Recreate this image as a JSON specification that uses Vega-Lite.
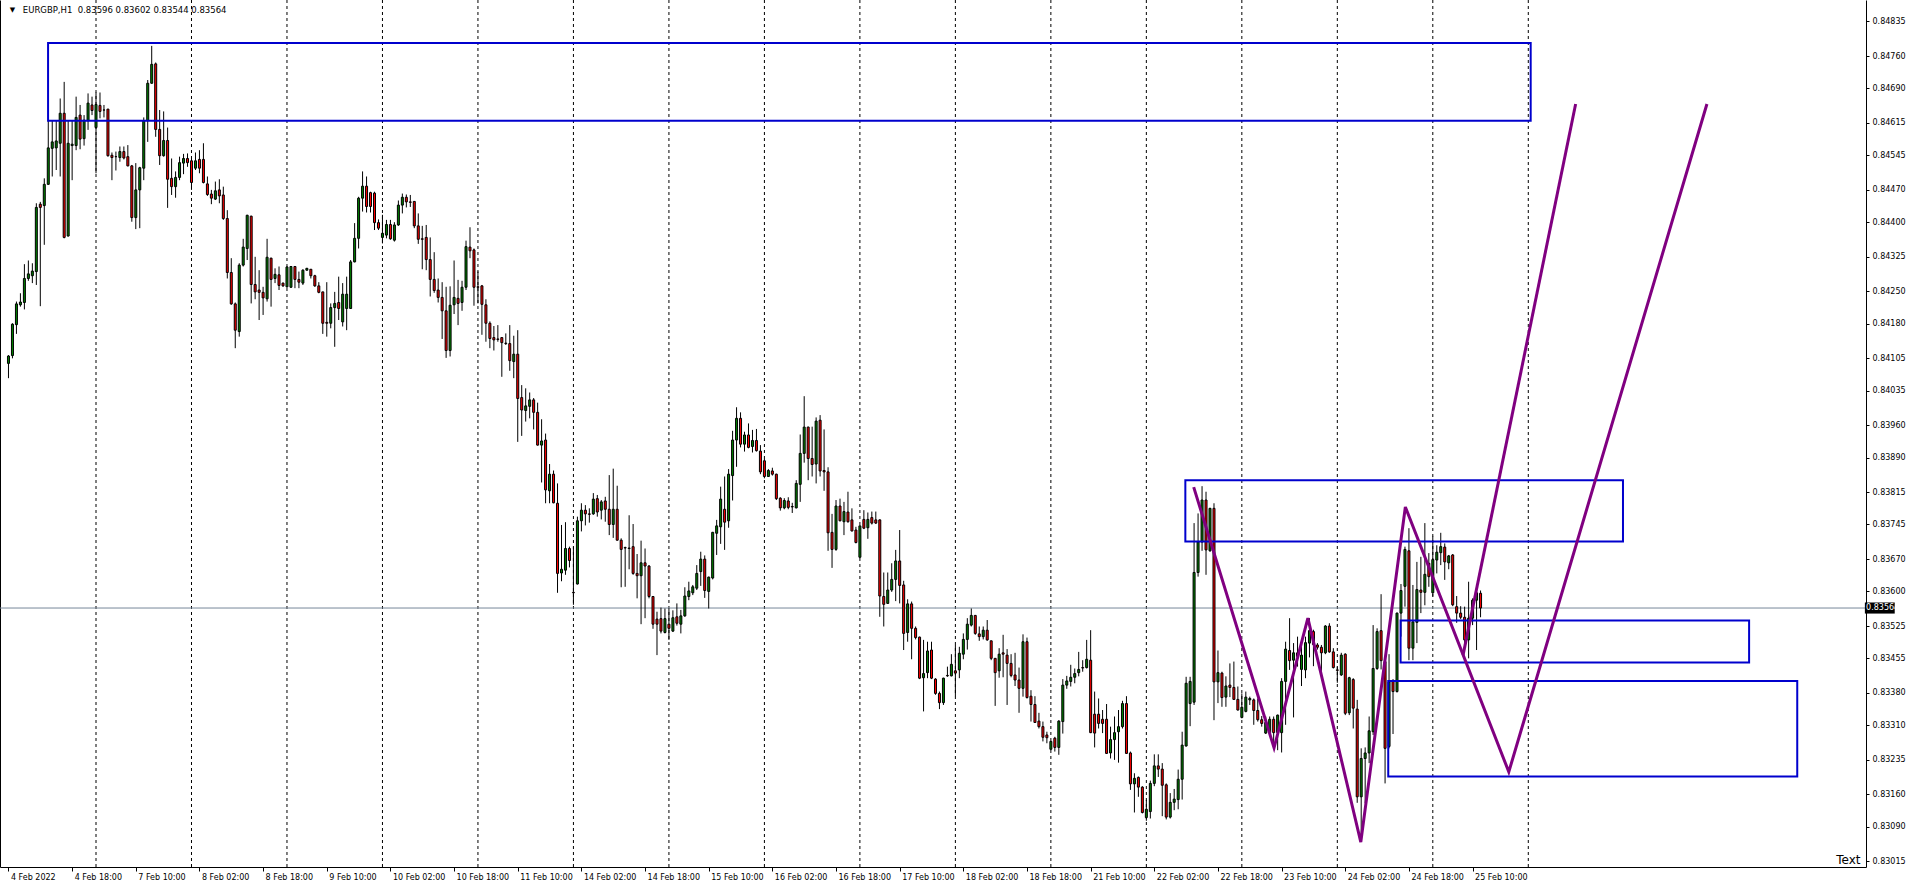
{
"$schema":"https://vega.github.io/schema/vega-lite/v6.json",
"width":1866,"height":867,
"autosize":{"type":"none"},
"padding":{"left":0,"top":0,"right":46,"bottom":18},
"background":"white",
"config":{"view":{"stroke":null},"font":"DejaVu Sans","axis":{"labelFont":"DejaVu Sans","labelFontSize":8,"labelColor":"black","domainColor":"black","tickColor":"black","grid":false}},
"resolve":{"scale":{"x":"shared","y":"shared"},"axis":{"x":"independent","y":"independent"}},
"datasets":{
"grid":[{"i":22},{"i":46},{"i":70},{"i":94},{"i":118},{"i":142},{"i":166},{"i":190},{"i":214},{"i":238},{"i":262},{"i":286},{"i":310},{"i":334},{"i":358},{"i":382}],
"boxes":[{"x1":9.95,"x2":382.6,"p1":0.84788,"p2":0.8462},{"x1":295.8,"x2":405.8,"p1":0.83841,"p2":0.83708},{"x1":349.9,"x2":437.5,"p1":0.83537,"p2":0.83446},{"x1":346.8,"x2":449.6,"p1":0.83406,"p2":0.83199}],
"lines":[{"g":"a","k":1,"x":297.9,"y":0.83826},{"g":"a","k":2,"x":318.1,"y":0.83261},{"g":"a","k":3,"x":326.6,"y":0.83542},{"g":"a","k":4,"x":339.9,"y":0.83057},{"g":"a","k":5,"x":351.1,"y":0.83783},{"g":"a","k":6,"x":377.1,"y":0.83209},{"g":"a","k":7,"x":426.9,"y":0.84656},{"g":"b","k":1,"x":365.6,"y":0.83462},{"g":"b","k":2,"x":393.9,"y":0.84656}],
"candles":[
{"i":0,"o":0.84094,"h":0.84112,"l":0.84062,"c":0.8411},
{"i":1,"o":0.84111,"h":0.84181,"l":0.84105,"c":0.84179},
{"i":2,"o":0.84178,"h":0.84228,"l":0.84158,"c":0.84223},
{"i":3,"o":0.84221,"h":0.84246,"l":0.84217,"c":0.84227},
{"i":4,"o":0.84226,"h":0.84309,"l":0.84211,"c":0.84278},
{"i":5,"o":0.84278,"h":0.84317,"l":0.84273,"c":0.84288},
{"i":6,"o":0.84284,"h":0.84311,"l":0.84268,"c":0.84294},
{"i":7,"o":0.84293,"h":0.84441,"l":0.84264,"c":0.84432},
{"i":8,"o":0.84439,"h":0.84444,"l":0.84218,"c":0.84432},
{"i":9,"o":0.84436,"h":0.84495,"l":0.84351,"c":0.84482},
{"i":10,"o":0.84482,"h":0.84621,"l":0.84481,"c":0.84561},
{"i":11,"o":0.8456,"h":0.84621,"l":0.84499,"c":0.84574},
{"i":12,"o":0.84561,"h":0.84621,"l":0.84513,"c":0.84576},
{"i":13,"o":0.84571,"h":0.84668,"l":0.84499,"c":0.84636},
{"i":14,"o":0.84636,"h":0.84704,"l":0.84365,"c":0.84367},
{"i":15,"o":0.8437,"h":0.84621,"l":0.84369,"c":0.84571},
{"i":16,"o":0.84566,"h":0.8462,"l":0.84491,"c":0.84569},
{"i":17,"o":0.84566,"h":0.84672,"l":0.84556,"c":0.84627},
{"i":18,"o":0.84632,"h":0.84654,"l":0.84558,"c":0.8458},
{"i":19,"o":0.84581,"h":0.84632,"l":0.84566,"c":0.84621},
{"i":20,"o":0.8462,"h":0.84679,"l":0.846,"c":0.84658},
{"i":21,"o":0.84654,"h":0.84672,"l":0.84632,"c":0.84642},
{"i":22,"o":0.84605,"h":0.84681,"l":0.84506,"c":0.84655},
{"i":23,"o":0.84653,"h":0.84681,"l":0.84625,"c":0.8464},
{"i":24,"o":0.84643,"h":0.84654,"l":0.84627,"c":0.84643},
{"i":25,"o":0.84645,"h":0.84645,"l":0.84542,"c":0.84544},
{"i":26,"o":0.84545,"h":0.84551,"l":0.84491,"c":0.8454},
{"i":27,"o":0.84542,"h":0.84553,"l":0.84512,"c":0.84542},
{"i":28,"o":0.8454,"h":0.84564,"l":0.84531,"c":0.84553},
{"i":29,"o":0.84553,"h":0.84564,"l":0.84536,"c":0.84539},
{"i":30,"o":0.84542,"h":0.84567,"l":0.84521,"c":0.84522},
{"i":31,"o":0.84522,"h":0.84524,"l":0.84401,"c":0.8441},
{"i":32,"o":0.8441,"h":0.84528,"l":0.84385,"c":0.8447},
{"i":33,"o":0.8447,"h":0.8452,"l":0.84387,"c":0.84518},
{"i":34,"o":0.84517,"h":0.84627,"l":0.84491,"c":0.8462},
{"i":35,"o":0.8462,"h":0.84708,"l":0.84574,"c":0.84701},
{"i":36,"o":0.84701,"h":0.84782,"l":0.847,"c":0.84742},
{"i":37,"o":0.84743,"h":0.84746,"l":0.84585,"c":0.84601},
{"i":38,"o":0.84601,"h":0.84643,"l":0.84524,"c":0.84544},
{"i":39,"o":0.84544,"h":0.8464,"l":0.84542,"c":0.84577},
{"i":40,"o":0.84577,"h":0.84605,"l":0.84431,"c":0.84493},
{"i":41,"o":0.84495,"h":0.84538,"l":0.84459,"c":0.84477},
{"i":42,"o":0.84477,"h":0.8451,"l":0.84453,"c":0.84497},
{"i":43,"o":0.84497,"h":0.84542,"l":0.84491,"c":0.84529},
{"i":44,"o":0.84528,"h":0.84548,"l":0.84504,"c":0.84538},
{"i":45,"o":0.84538,"h":0.84549,"l":0.8452,"c":0.84529},
{"i":46,"o":0.84533,"h":0.84538,"l":0.8447,"c":0.84486},
{"i":47,"o":0.84517,"h":0.84551,"l":0.84513,"c":0.84533},
{"i":48,"o":0.84536,"h":0.84556,"l":0.84506,"c":0.84517},
{"i":49,"o":0.84536,"h":0.84571,"l":0.84484,"c":0.84486},
{"i":50,"o":0.84483,"h":0.84499,"l":0.84457,"c":0.8446},
{"i":51,"o":0.84461,"h":0.8447,"l":0.84439,"c":0.84452},
{"i":52,"o":0.8445,"h":0.84488,"l":0.84448,"c":0.84468},
{"i":53,"o":0.8447,"h":0.84493,"l":0.84441,"c":0.84457},
{"i":54,"o":0.84459,"h":0.84477,"l":0.84405,"c":0.84408},
{"i":55,"o":0.84408,"h":0.84426,"l":0.84278,"c":0.84291},
{"i":56,"o":0.84291,"h":0.84322,"l":0.84221,"c":0.84223},
{"i":57,"o":0.84223,"h":0.84226,"l":0.84127,"c":0.84166},
{"i":58,"o":0.84163,"h":0.84311,"l":0.84152,"c":0.84307},
{"i":59,"o":0.84307,"h":0.84364,"l":0.84304,"c":0.84346},
{"i":60,"o":0.84343,"h":0.84416,"l":0.84318,"c":0.84415},
{"i":61,"o":0.84413,"h":0.84414,"l":0.84224,"c":0.84265},
{"i":62,"o":0.84265,"h":0.84325,"l":0.84233,"c":0.84249},
{"i":63,"o":0.84253,"h":0.84296,"l":0.84188,"c":0.84248},
{"i":64,"o":0.84248,"h":0.8426,"l":0.84199,"c":0.84236},
{"i":65,"o":0.84234,"h":0.84364,"l":0.84228,"c":0.84324},
{"i":66,"o":0.84322,"h":0.84323,"l":0.84217,"c":0.84276},
{"i":67,"o":0.84278,"h":0.843,"l":0.84268,"c":0.84287},
{"i":68,"o":0.84286,"h":0.84304,"l":0.84253,"c":0.84263},
{"i":69,"o":0.84268,"h":0.84269,"l":0.8426,"c":0.84262},
{"i":70,"o":0.8426,"h":0.84304,"l":0.84258,"c":0.84303},
{"i":71,"o":0.84259,"h":0.84305,"l":0.84258,"c":0.84304},
{"i":72,"o":0.84304,"h":0.84305,"l":0.84257,"c":0.84276},
{"i":73,"o":0.84276,"h":0.84293,"l":0.84257,"c":0.8427},
{"i":74,"o":0.84268,"h":0.84298,"l":0.84264,"c":0.84296},
{"i":75,"o":0.84296,"h":0.84301,"l":0.84295,"c":0.843},
{"i":76,"o":0.84298,"h":0.84298,"l":0.84278,"c":0.84284},
{"i":77,"o":0.84284,"h":0.84286,"l":0.8426,"c":0.84262},
{"i":78,"o":0.84262,"h":0.8427,"l":0.84246,"c":0.84248},
{"i":79,"o":0.84249,"h":0.84249,"l":0.84158,"c":0.84181},
{"i":80,"o":0.84183,"h":0.8427,"l":0.84152,"c":0.84181},
{"i":81,"o":0.84181,"h":0.84224,"l":0.8417,"c":0.84215},
{"i":82,"o":0.84215,"h":0.84249,"l":0.8413,"c":0.84224},
{"i":83,"o":0.84226,"h":0.84282,"l":0.84188,"c":0.84213},
{"i":84,"o":0.84184,"h":0.84268,"l":0.84174,"c":0.84244},
{"i":85,"o":0.84213,"h":0.84282,"l":0.84166,"c":0.84244},
{"i":86,"o":0.84213,"h":0.84318,"l":0.84212,"c":0.84314},
{"i":87,"o":0.84314,"h":0.84398,"l":0.84313,"c":0.84365},
{"i":88,"o":0.84365,"h":0.84455,"l":0.84343,"c":0.84452},
{"i":89,"o":0.84452,"h":0.8451,"l":0.84423,"c":0.84478},
{"i":90,"o":0.84478,"h":0.84499,"l":0.84421,"c":0.84434},
{"i":91,"o":0.84464,"h":0.84466,"l":0.84421,"c":0.84434},
{"i":92,"o":0.84463,"h":0.84466,"l":0.84383,"c":0.84399},
{"i":93,"o":0.84399,"h":0.84406,"l":0.84383,"c":0.84387},
{"i":94,"o":0.84367,"h":0.84416,"l":0.84354,"c":0.84376},
{"i":95,"o":0.84372,"h":0.84405,"l":0.84365,"c":0.84395},
{"i":96,"o":0.84395,"h":0.84405,"l":0.84362,"c":0.84364},
{"i":97,"o":0.84361,"h":0.844,"l":0.84358,"c":0.84394},
{"i":98,"o":0.84394,"h":0.84447,"l":0.84392,"c":0.84437},
{"i":99,"o":0.84437,"h":0.84462,"l":0.84419,"c":0.84454},
{"i":100,"o":0.84454,"h":0.8446,"l":0.84432,"c":0.84444},
{"i":101,"o":0.84444,"h":0.84459,"l":0.84433,"c":0.84443},
{"i":102,"o":0.84445,"h":0.84445,"l":0.84387,"c":0.84392},
{"i":103,"o":0.84392,"h":0.84419,"l":0.84353,"c":0.84363},
{"i":104,"o":0.84364,"h":0.84392,"l":0.84298,"c":0.84363},
{"i":105,"o":0.84367,"h":0.84394,"l":0.84296,"c":0.84319},
{"i":106,"o":0.84319,"h":0.84367,"l":0.84239,"c":0.84276},
{"i":107,"o":0.84276,"h":0.84335,"l":0.84247,"c":0.84252},
{"i":108,"o":0.84253,"h":0.84278,"l":0.84226,"c":0.84237},
{"i":109,"o":0.84237,"h":0.8427,"l":0.84147,"c":0.84208},
{"i":110,"o":0.84208,"h":0.8426,"l":0.84106,"c":0.84122},
{"i":111,"o":0.84122,"h":0.84261,"l":0.84109,"c":0.8422},
{"i":112,"o":0.84221,"h":0.84317,"l":0.84201,"c":0.84237},
{"i":113,"o":0.84235,"h":0.84275,"l":0.84177,"c":0.84224},
{"i":114,"o":0.84226,"h":0.84273,"l":0.84208,"c":0.84259},
{"i":115,"o":0.84259,"h":0.8436,"l":0.84253,"c":0.84347},
{"i":116,"o":0.84346,"h":0.84389,"l":0.84322,"c":0.84338},
{"i":117,"o":0.8434,"h":0.84343,"l":0.84219,"c":0.84259},
{"i":118,"o":0.8426,"h":0.84293,"l":0.84224,"c":0.84259},
{"i":119,"o":0.84262,"h":0.84264,"l":0.84156,"c":0.84222},
{"i":120,"o":0.84221,"h":0.84233,"l":0.84141,"c":0.84181},
{"i":121,"o":0.84181,"h":0.84185,"l":0.84127,"c":0.84148},
{"i":122,"o":0.8415,"h":0.84175,"l":0.84122,"c":0.84145},
{"i":123,"o":0.84147,"h":0.84177,"l":0.84141,"c":0.84146},
{"i":124,"o":0.8415,"h":0.84151,"l":0.84065,"c":0.84139},
{"i":125,"o":0.84138,"h":0.84159,"l":0.84134,"c":0.84137},
{"i":126,"o":0.84137,"h":0.84177,"l":0.84078,"c":0.841},
{"i":127,"o":0.84098,"h":0.84154,"l":0.84062,"c":0.84114},
{"i":128,"o":0.84114,"h":0.84166,"l":0.83924,"c":0.84018},
{"i":129,"o":0.8402,"h":0.84047,"l":0.83937,"c":0.83993},
{"i":130,"o":0.83992,"h":0.8404,"l":0.83968,"c":0.84002},
{"i":131,"o":0.84001,"h":0.84031,"l":0.83975,"c":0.84015},
{"i":132,"o":0.84015,"h":0.84019,"l":0.83951,"c":0.83988},
{"i":133,"o":0.83988,"h":0.84009,"l":0.83916,"c":0.83917},
{"i":134,"o":0.83917,"h":0.83973,"l":0.83836,"c":0.83926},
{"i":135,"o":0.83928,"h":0.83942,"l":0.83791,"c":0.8382},
{"i":136,"o":0.83818,"h":0.83876,"l":0.83791,"c":0.83854},
{"i":137,"o":0.83854,"h":0.83862,"l":0.83791,"c":0.83792},
{"i":138,"o":0.83791,"h":0.83834,"l":0.83597,"c":0.83639},
{"i":139,"o":0.8364,"h":0.83744,"l":0.83622,"c":0.83648},
{"i":140,"o":0.83646,"h":0.8375,"l":0.83636,"c":0.83693},
{"i":141,"o":0.83693,"h":0.83697,"l":0.83652,"c":0.83667},
{"i":142,"o":0.83598,"h":0.83697,"l":0.83571,"c":0.83597},
{"i":143,"o":0.83616,"h":0.83762,"l":0.83615,"c":0.83753},
{"i":144,"o":0.83753,"h":0.83791,"l":0.8373,"c":0.83776},
{"i":145,"o":0.83776,"h":0.83787,"l":0.83743,"c":0.83768},
{"i":146,"o":0.83768,"h":0.8378,"l":0.83749,"c":0.83767},
{"i":147,"o":0.83768,"h":0.83813,"l":0.83766,"c":0.838},
{"i":148,"o":0.83801,"h":0.83809,"l":0.83762,"c":0.83772},
{"i":149,"o":0.83776,"h":0.83798,"l":0.83756,"c":0.83794},
{"i":150,"o":0.83796,"h":0.83805,"l":0.83751,"c":0.83778},
{"i":151,"o":0.83778,"h":0.83852,"l":0.83722,"c":0.83745},
{"i":152,"o":0.83745,"h":0.83866,"l":0.83716,"c":0.83778},
{"i":153,"o":0.83778,"h":0.83829,"l":0.8371,"c":0.83711},
{"i":154,"o":0.83711,"h":0.83715,"l":0.83609,"c":0.83691},
{"i":155,"o":0.83695,"h":0.83697,"l":0.8361,"c":0.83694},
{"i":156,"o":0.83694,"h":0.83765,"l":0.83648,"c":0.83693},
{"i":157,"o":0.83697,"h":0.83746,"l":0.83636,"c":0.83639},
{"i":158,"o":0.83639,"h":0.83681,"l":0.83585,"c":0.83634},
{"i":159,"o":0.83634,"h":0.8371,"l":0.83529,"c":0.83662},
{"i":160,"o":0.83662,"h":0.83693,"l":0.83542,"c":0.83655},
{"i":161,"o":0.83655,"h":0.83657,"l":0.83585,"c":0.83589},
{"i":162,"o":0.83589,"h":0.8359,"l":0.83519,"c":0.83529},
{"i":163,"o":0.8354,"h":0.83556,"l":0.83462,"c":0.83529},
{"i":164,"o":0.83541,"h":0.83565,"l":0.83509,"c":0.83514},
{"i":165,"o":0.83511,"h":0.83563,"l":0.83509,"c":0.83541},
{"i":166,"o":0.83529,"h":0.83563,"l":0.83495,"c":0.8352},
{"i":167,"o":0.83514,"h":0.83559,"l":0.83512,"c":0.83543},
{"i":168,"o":0.83545,"h":0.83574,"l":0.83526,"c":0.83531},
{"i":169,"o":0.83529,"h":0.8356,"l":0.83509,"c":0.83547},
{"i":170,"o":0.83547,"h":0.83609,"l":0.83545,"c":0.8359},
{"i":171,"o":0.83589,"h":0.83621,"l":0.83581,"c":0.83601},
{"i":172,"o":0.83597,"h":0.83614,"l":0.83592,"c":0.8361},
{"i":173,"o":0.83607,"h":0.83657,"l":0.83603,"c":0.83639},
{"i":174,"o":0.83643,"h":0.83686,"l":0.83612,"c":0.8367},
{"i":175,"o":0.8367,"h":0.83678,"l":0.83586,"c":0.83602},
{"i":176,"o":0.836,"h":0.83632,"l":0.83563,"c":0.83631},
{"i":177,"o":0.83629,"h":0.83729,"l":0.83626,"c":0.83728},
{"i":178,"o":0.83726,"h":0.83755,"l":0.83679,"c":0.83742},
{"i":179,"o":0.8374,"h":0.83827,"l":0.83703,"c":0.838},
{"i":180,"o":0.83778,"h":0.83849,"l":0.8369,"c":0.8375},
{"i":181,"o":0.83753,"h":0.83865,"l":0.83738,"c":0.83854},
{"i":182,"o":0.83851,"h":0.83948,"l":0.83797,"c":0.83928},
{"i":183,"o":0.83928,"h":0.83999,"l":0.8387,"c":0.83975},
{"i":184,"o":0.83975,"h":0.83988,"l":0.83912,"c":0.83919},
{"i":185,"o":0.83919,"h":0.83946,"l":0.83903,"c":0.83939},
{"i":186,"o":0.83939,"h":0.83964,"l":0.8391,"c":0.83912},
{"i":187,"o":0.83914,"h":0.8395,"l":0.83901,"c":0.83927},
{"i":188,"o":0.83927,"h":0.83952,"l":0.83903,"c":0.83905},
{"i":189,"o":0.83904,"h":0.83917,"l":0.83854,"c":0.83859},
{"i":190,"o":0.83883,"h":0.83887,"l":0.83845,"c":0.83849},
{"i":191,"o":0.83849,"h":0.83865,"l":0.83848,"c":0.83862},
{"i":192,"o":0.83861,"h":0.83868,"l":0.83851,"c":0.83854},
{"i":193,"o":0.83854,"h":0.83855,"l":0.83798,"c":0.83801},
{"i":194,"o":0.83802,"h":0.83804,"l":0.83775,"c":0.83781},
{"i":195,"o":0.83781,"h":0.83802,"l":0.83778,"c":0.83797},
{"i":196,"o":0.83796,"h":0.83804,"l":0.83778,"c":0.83782},
{"i":197,"o":0.83784,"h":0.83792,"l":0.8377,"c":0.83783},
{"i":198,"o":0.83781,"h":0.83841,"l":0.8378,"c":0.83834},
{"i":199,"o":0.83832,"h":0.8394,"l":0.83794,"c":0.83899},
{"i":200,"o":0.83899,"h":0.84023,"l":0.83879,"c":0.83956},
{"i":201,"o":0.83956,"h":0.83957,"l":0.83841,"c":0.83888},
{"i":202,"o":0.83888,"h":0.83957,"l":0.83849,"c":0.83875},
{"i":203,"o":0.83876,"h":0.83977,"l":0.83834,"c":0.83969},
{"i":204,"o":0.83971,"h":0.83982,"l":0.83849,"c":0.83861},
{"i":205,"o":0.83862,"h":0.83951,"l":0.83818,"c":0.83859},
{"i":206,"o":0.83859,"h":0.83869,"l":0.83688,"c":0.83727},
{"i":207,"o":0.83728,"h":0.83768,"l":0.83651,"c":0.83691},
{"i":208,"o":0.83691,"h":0.83798,"l":0.83688,"c":0.83785},
{"i":209,"o":0.83785,"h":0.83801,"l":0.83752,"c":0.83753},
{"i":210,"o":0.83751,"h":0.83794,"l":0.83722,"c":0.83773},
{"i":211,"o":0.83772,"h":0.83816,"l":0.83749,"c":0.83751},
{"i":212,"o":0.83755,"h":0.8378,"l":0.8373,"c":0.83731},
{"i":213,"o":0.83733,"h":0.8374,"l":0.83704,"c":0.83706},
{"i":214,"o":0.83674,"h":0.83743,"l":0.83672,"c":0.83742},
{"i":215,"o":0.83756,"h":0.83776,"l":0.83735,"c":0.83737},
{"i":216,"o":0.83738,"h":0.83771,"l":0.83714,"c":0.83756},
{"i":217,"o":0.8376,"h":0.83773,"l":0.83745,"c":0.83748},
{"i":218,"o":0.83755,"h":0.83773,"l":0.83746,"c":0.83748},
{"i":219,"o":0.83755,"h":0.83756,"l":0.83545,"c":0.8359},
{"i":220,"o":0.83589,"h":0.83641,"l":0.83524,"c":0.83572},
{"i":221,"o":0.83574,"h":0.83641,"l":0.83573,"c":0.83603},
{"i":222,"o":0.83603,"h":0.83661,"l":0.83599,"c":0.83626},
{"i":223,"o":0.83626,"h":0.8369,"l":0.83579,"c":0.83666},
{"i":224,"o":0.83666,"h":0.83733,"l":0.83574,"c":0.83613},
{"i":225,"o":0.83614,"h":0.83623,"l":0.83473,"c":0.83509},
{"i":226,"o":0.83511,"h":0.83583,"l":0.83491,"c":0.83573},
{"i":227,"o":0.83573,"h":0.83578,"l":0.83453,"c":0.8352},
{"i":228,"o":0.8352,"h":0.83524,"l":0.83496,"c":0.835},
{"i":229,"o":0.83501,"h":0.83502,"l":0.8341,"c":0.83412},
{"i":230,"o":0.83413,"h":0.83495,"l":0.8334,"c":0.83422},
{"i":231,"o":0.83424,"h":0.83491,"l":0.83412,"c":0.83471},
{"i":232,"o":0.83473,"h":0.83491,"l":0.8341,"c":0.83412},
{"i":233,"o":0.8341,"h":0.83412,"l":0.83376,"c":0.83379},
{"i":234,"o":0.83379,"h":0.83383,"l":0.83345,"c":0.83359},
{"i":235,"o":0.83359,"h":0.83413,"l":0.83354,"c":0.83412},
{"i":236,"o":0.83418,"h":0.83437,"l":0.83415,"c":0.83417},
{"i":237,"o":0.83417,"h":0.83464,"l":0.83416,"c":0.83442},
{"i":238,"o":0.83428,"h":0.83484,"l":0.83373,"c":0.83423},
{"i":239,"o":0.8343,"h":0.8348,"l":0.83412,"c":0.83466},
{"i":240,"o":0.83464,"h":0.83509,"l":0.83453,"c":0.83496},
{"i":241,"o":0.83496,"h":0.83542,"l":0.83474,"c":0.83529},
{"i":242,"o":0.83527,"h":0.83563,"l":0.83524,"c":0.83548},
{"i":243,"o":0.83548,"h":0.83549,"l":0.83506,"c":0.83509},
{"i":244,"o":0.83508,"h":0.83524,"l":0.83493,"c":0.83502},
{"i":245,"o":0.83502,"h":0.83524,"l":0.83496,"c":0.83516},
{"i":246,"o":0.83516,"h":0.83538,"l":0.83493,"c":0.83495},
{"i":247,"o":0.83493,"h":0.83493,"l":0.83451,"c":0.83455},
{"i":248,"o":0.83455,"h":0.83455,"l":0.83352,"c":0.83424},
{"i":249,"o":0.83428,"h":0.83477,"l":0.83413,"c":0.83464},
{"i":250,"o":0.83467,"h":0.83506,"l":0.83414,"c":0.83464},
{"i":251,"o":0.83462,"h":0.83475,"l":0.83354,"c":0.83444},
{"i":252,"o":0.83444,"h":0.83464,"l":0.83414,"c":0.83418},
{"i":253,"o":0.83419,"h":0.83467,"l":0.83395,"c":0.83408},
{"i":254,"o":0.83408,"h":0.83435,"l":0.83337,"c":0.8339},
{"i":255,"o":0.8339,"h":0.83507,"l":0.83372,"c":0.83491},
{"i":256,"o":0.83491,"h":0.835,"l":0.83368,"c":0.8337},
{"i":257,"o":0.83373,"h":0.83386,"l":0.83318,"c":0.83355},
{"i":258,"o":0.83355,"h":0.83373,"l":0.83315,"c":0.83316},
{"i":259,"o":0.83319,"h":0.83337,"l":0.83303,"c":0.83307},
{"i":260,"o":0.83307,"h":0.83318,"l":0.83275,"c":0.83284},
{"i":261,"o":0.83289,"h":0.83296,"l":0.83271,"c":0.83283},
{"i":262,"o":0.83258,"h":0.83276,"l":0.83256,"c":0.83275},
{"i":263,"o":0.83282,"h":0.83285,"l":0.83253,"c":0.83262},
{"i":264,"o":0.83262,"h":0.83321,"l":0.83246,"c":0.83319},
{"i":265,"o":0.83318,"h":0.8341,"l":0.83292,"c":0.83397},
{"i":266,"o":0.83397,"h":0.83417,"l":0.83389,"c":0.83406},
{"i":267,"o":0.83405,"h":0.83441,"l":0.83394,"c":0.83414},
{"i":268,"o":0.83414,"h":0.83433,"l":0.83401,"c":0.83422},
{"i":269,"o":0.83424,"h":0.83469,"l":0.83416,"c":0.83431},
{"i":270,"o":0.83435,"h":0.83451,"l":0.83426,"c":0.83434},
{"i":271,"o":0.83435,"h":0.83495,"l":0.83433,"c":0.83453},
{"i":272,"o":0.83451,"h":0.83516,"l":0.83293,"c":0.83294},
{"i":273,"o":0.83334,"h":0.83383,"l":0.83262,"c":0.83293},
{"i":274,"o":0.83334,"h":0.83368,"l":0.83303,"c":0.83314},
{"i":275,"o":0.83323,"h":0.83343,"l":0.83293,"c":0.83314},
{"i":276,"o":0.83323,"h":0.83356,"l":0.83248,"c":0.83249},
{"i":277,"o":0.8325,"h":0.83307,"l":0.83238,"c":0.83279},
{"i":278,"o":0.83279,"h":0.83329,"l":0.83235,"c":0.83294},
{"i":279,"o":0.83296,"h":0.83343,"l":0.83229,"c":0.83307},
{"i":280,"o":0.83307,"h":0.83363,"l":0.83303,"c":0.83357},
{"i":281,"o":0.83357,"h":0.83373,"l":0.83248,"c":0.83249},
{"i":282,"o":0.8325,"h":0.83253,"l":0.8317,"c":0.83183},
{"i":283,"o":0.83183,"h":0.83206,"l":0.83121,"c":0.83195},
{"i":284,"o":0.83197,"h":0.83199,"l":0.83155,"c":0.83176},
{"i":285,"o":0.83176,"h":0.83178,"l":0.83119,"c":0.83121},
{"i":286,"o":0.8311,"h":0.83148,"l":0.83103,"c":0.83128},
{"i":287,"o":0.83123,"h":0.8319,"l":0.83108,"c":0.83184},
{"i":288,"o":0.83184,"h":0.83247,"l":0.83178,"c":0.83222},
{"i":289,"o":0.83222,"h":0.83247,"l":0.83198,"c":0.83215},
{"i":290,"o":0.83215,"h":0.83228,"l":0.83113,"c":0.8318},
{"i":291,"o":0.83181,"h":0.83184,"l":0.83106,"c":0.83111},
{"i":292,"o":0.83111,"h":0.83163,"l":0.83108,"c":0.83143},
{"i":293,"o":0.83143,"h":0.83172,"l":0.83126,"c":0.8315},
{"i":294,"o":0.83149,"h":0.83214,"l":0.83128,"c":0.83193},
{"i":295,"o":0.83193,"h":0.83296,"l":0.83149,"c":0.83267},
{"i":296,"o":0.83265,"h":0.83415,"l":0.83264,"c":0.83401},
{"i":297,"o":0.83357,"h":0.83415,"l":0.83308,"c":0.83405},
{"i":298,"o":0.8336,"h":0.83748,"l":0.83354,"c":0.83641},
{"i":299,"o":0.83641,"h":0.83769,"l":0.83632,"c":0.83707},
{"i":300,"o":0.83707,"h":0.83828,"l":0.83688,"c":0.83798},
{"i":301,"o":0.83798,"h":0.83816,"l":0.83636,"c":0.8369},
{"i":302,"o":0.83688,"h":0.83781,"l":0.83686,"c":0.8378},
{"i":303,"o":0.8378,"h":0.83791,"l":0.83321,"c":0.83404},
{"i":304,"o":0.83404,"h":0.83472,"l":0.83358,"c":0.83424},
{"i":305,"o":0.83423,"h":0.83426,"l":0.8335,"c":0.8337},
{"i":306,"o":0.83371,"h":0.83416,"l":0.8335,"c":0.83395},
{"i":307,"o":0.83397,"h":0.83444,"l":0.83371,"c":0.83392},
{"i":308,"o":0.83392,"h":0.83448,"l":0.83365,"c":0.83366},
{"i":309,"o":0.83366,"h":0.83394,"l":0.83342,"c":0.83343},
{"i":310,"o":0.83327,"h":0.83379,"l":0.83325,"c":0.83349},
{"i":311,"o":0.8334,"h":0.83383,"l":0.83338,"c":0.83371},
{"i":312,"o":0.83365,"h":0.83372,"l":0.83354,"c":0.83368},
{"i":313,"o":0.83365,"h":0.83368,"l":0.83311,"c":0.83342},
{"i":314,"o":0.83342,"h":0.83368,"l":0.83318,"c":0.83322},
{"i":315,"o":0.83322,"h":0.8333,"l":0.83307,"c":0.83314},
{"i":316,"o":0.83293,"h":0.83329,"l":0.83291,"c":0.83316},
{"i":317,"o":0.83294,"h":0.83329,"l":0.83289,"c":0.83323},
{"i":318,"o":0.83323,"h":0.83329,"l":0.83267,"c":0.83294},
{"i":319,"o":0.83294,"h":0.83333,"l":0.83256,"c":0.83332},
{"i":320,"o":0.83294,"h":0.83412,"l":0.83251,"c":0.83405},
{"i":321,"o":0.83405,"h":0.83491,"l":0.83311,"c":0.83475},
{"i":322,"o":0.83472,"h":0.83542,"l":0.8343,"c":0.8345},
{"i":323,"o":0.83451,"h":0.83488,"l":0.83327,"c":0.83467},
{"i":324,"o":0.83467,"h":0.83502,"l":0.83437,"c":0.83459},
{"i":325,"o":0.83431,"h":0.83488,"l":0.83395,"c":0.83462},
{"i":326,"o":0.8343,"h":0.83502,"l":0.83412,"c":0.83489},
{"i":327,"o":0.83488,"h":0.83542,"l":0.83457,"c":0.83515},
{"i":328,"o":0.83513,"h":0.83517,"l":0.83438,"c":0.83485},
{"i":329,"o":0.83484,"h":0.83488,"l":0.83474,"c":0.83479},
{"i":330,"o":0.83479,"h":0.83484,"l":0.83428,"c":0.83467},
{"i":331,"o":0.83467,"h":0.83527,"l":0.83464,"c":0.83525},
{"i":332,"o":0.83525,"h":0.83531,"l":0.83467,"c":0.83469},
{"i":333,"o":0.83469,"h":0.83477,"l":0.83433,"c":0.83435},
{"i":334,"o":0.8343,"h":0.83437,"l":0.83402,"c":0.83429},
{"i":335,"o":0.83419,"h":0.83467,"l":0.83417,"c":0.83462},
{"i":336,"o":0.83464,"h":0.83466,"l":0.83332,"c":0.83336},
{"i":337,"o":0.83337,"h":0.83415,"l":0.83332,"c":0.83413},
{"i":338,"o":0.83409,"h":0.83412,"l":0.83303,"c":0.83347},
{"i":339,"o":0.83345,"h":0.83365,"l":0.83142,"c":0.83155},
{"i":340,"o":0.83155,"h":0.8326,"l":0.83058,"c":0.83238},
{"i":341,"o":0.83238,"h":0.83262,"l":0.83141,"c":0.8325},
{"i":342,"o":0.8325,"h":0.83329,"l":0.83228,"c":0.83298},
{"i":343,"o":0.83296,"h":0.83527,"l":0.83289,"c":0.83433},
{"i":344,"o":0.83433,"h":0.8352,"l":0.8343,"c":0.83513},
{"i":345,"o":0.83515,"h":0.83594,"l":0.83431,"c":0.8345},
{"i":346,"o":0.83448,"h":0.83451,"l":0.83184,"c":0.8326},
{"i":347,"o":0.83264,"h":0.83464,"l":0.8326,"c":0.83404},
{"i":348,"o":0.83406,"h":0.8341,"l":0.83291,"c":0.83383},
{"i":349,"o":0.83383,"h":0.83554,"l":0.83381,"c":0.83553},
{"i":350,"o":0.83553,"h":0.83616,"l":0.83502,"c":0.83602},
{"i":351,"o":0.83611,"h":0.83697,"l":0.83567,"c":0.83691},
{"i":352,"o":0.83688,"h":0.83737,"l":0.83451,"c":0.83477},
{"i":353,"o":0.83477,"h":0.83614,"l":0.83451,"c":0.83534},
{"i":354,"o":0.83533,"h":0.83664,"l":0.83488,"c":0.83604},
{"i":355,"o":0.83603,"h":0.83675,"l":0.83553,"c":0.83598},
{"i":356,"o":0.83598,"h":0.83748,"l":0.8357,"c":0.83637},
{"i":357,"o":0.83661,"h":0.83683,"l":0.8361,"c":0.83632},
{"i":358,"o":0.83597,"h":0.83719,"l":0.83589,"c":0.83669},
{"i":359,"o":0.83668,"h":0.837,"l":0.83639,"c":0.83685},
{"i":360,"o":0.83684,"h":0.83727,"l":0.83657,"c":0.83697},
{"i":361,"o":0.83696,"h":0.83704,"l":0.83625,"c":0.83664},
{"i":362,"o":0.83662,"h":0.83679,"l":0.83648,"c":0.83677},
{"i":363,"o":0.83679,"h":0.83681,"l":0.83568,"c":0.83571},
{"i":364,"o":0.83567,"h":0.8359,"l":0.83532,"c":0.83553},
{"i":365,"o":0.83553,"h":0.83568,"l":0.8354,"c":0.83544},
{"i":366,"o":0.83544,"h":0.83567,"l":0.83473,"c":0.83495},
{"i":367,"o":0.83495,"h":0.83621,"l":0.83455,"c":0.83542},
{"i":368,"o":0.83542,"h":0.83585,"l":0.83527,"c":0.83581},
{"i":369,"o":0.83581,"h":0.83603,"l":0.83473,"c":0.83597},
{"i":370,"o":0.83596,"h":0.83602,"l":0.83544,"c":0.83564}
]},
"layer":[
{"data":{"name":"grid"},"mark":{"type":"rule","color":"black","strokeWidth":1,"strokeDash":[3,3]},
 "encoding":{"x":{"field":"i","type":"quantitative","scale":{"domain":[-0.875,465.625],"nice":false,"zero":false},
   "axis":{"orient":"bottom","title":null,"values":[0,16,32,48,64,80,96,112,128,144,160,176,192,208,224,240,256,272,288,304,320,336,352,368],
    "labelExpr":"['4 Feb 2022','4 Feb 18:00','7 Feb 10:00','8 Feb 02:00','8 Feb 18:00','9 Feb 10:00','10 Feb 02:00','10 Feb 18:00','11 Feb 10:00','14 Feb 02:00','14 Feb 18:00','15 Feb 10:00','16 Feb 02:00','16 Feb 18:00','17 Feb 10:00','18 Feb 02:00','18 Feb 18:00','21 Feb 10:00','22 Feb 02:00','22 Feb 18:00','23 Feb 10:00','24 Feb 02:00','24 Feb 18:00','25 Feb 10:00'][round(datum.value/16)]",
    "labelAlign":"left","labelBaseline":"top","labelPadding":2,"tickSize":4,"labelOffset":2,"labelFlush":false,"labelOverlap":false,"grid":false}}}},
{"data":{"values":[{}]},"mark":{"type":"rule","color":"#778899","strokeWidth":1},
 "encoding":{"y":{"datum":0.83564,"type":"quantitative","scale":{"domain":[0.830029,0.848814],"nice":false,"zero":false},"axis":{"orient":"left","labels":false,"ticks":false,"domain":true,"grid":false,"title":null}}}},
{"data":{"name":"candles"},"mark":{"type":"rule","color":"black","strokeWidth":1},
 "encoding":{"x":{"field":"i","type":"quantitative","axis":null},
  "y":{"field":"l","type":"quantitative","axis":null},
  "y2":{"field":"h"}}},
{"data":{"name":"candles"},"mark":{"type":"bar","size":2,"stroke":"black","strokeWidth":1},
 "encoding":{"x":{"field":"i","type":"quantitative","axis":null},
  "y":{"field":"o","type":"quantitative",
   "axis":{"orient":"right","title":null,"values":[0.84835,0.8476,0.8469,0.84615,0.84545,0.8447,0.844,0.84325,0.8425,0.8418,0.84105,0.84035,0.8396,0.8389,0.83815,0.83745,0.8367,0.836,0.83525,0.83455,0.8338,0.8331,0.83235,0.8316,0.8309,0.83015],
    "format":".5f","tickSize":3,"labelPadding":3,"labelFlush":false,"labelOverlap":false,"labelBaseline":"middle","grid":false}},
  "y2":{"field":"c"},
  "fill":{"condition":{"test":"datum.c >= datum.o","value":"#008000"},"value":"#ff0000"}}},
{"data":{"name":"boxes"},"mark":{"type":"rect","filled":false,"color":"#0000cd","strokeWidth":2},
 "encoding":{"x":{"field":"x1","type":"quantitative","axis":null},"x2":{"field":"x2"},"y":{"field":"p1","type":"quantitative","axis":null},"y2":{"field":"p2"}}},
{"data":{"name":"lines"},"mark":{"type":"line","color":"#800080","strokeWidth":3},
 "encoding":{"x":{"field":"x","type":"quantitative","axis":null},"y":{"field":"y","type":"quantitative","axis":null},"detail":{"field":"g"},"order":{"field":"k"}}},
{"data":{"values":[{}]},"mark":{"type":"text","text":"▼","align":"left","baseline":"middle","fontSize":7,"font":"DejaVu Sans","color":"black"},
 "encoding":{"x":{"datum":0.3,"type":"quantitative","axis":null},"y":{"datum":0.8486,"type":"quantitative","axis":null}}},
{"data":{"values":[{}]},"mark":{"type":"text","text":"EURGBP,H1\u00a0\u00a00.83596 0.83602 0.83544 0.83564","align":"left","baseline":"middle","fontSize":8.5,"font":"DejaVu Sans","color":"black"},
 "encoding":{"x":{"datum":3.6,"type":"quantitative","axis":null},"y":{"datum":0.8486,"type":"quantitative","axis":null}}},
{"data":{"values":[{}]},"mark":{"type":"text","text":"Text","align":"right","baseline":"alphabetic","fontSize":12,"font":"DejaVu Sans","color":"black"},
 "encoding":{"x":{"datum":465.5,"type":"quantitative","axis":null},"y":{"datum":0.8301,"type":"quantitative","axis":null}}},
{"data":{"values":[{}]},"mark":{"type":"rect","color":"black"},
 "encoding":{"x":{"datum":466.6,"type":"quantitative","axis":null},"x2":{"datum":474.1},"y":{"datum":0.83576,"type":"quantitative","axis":null},"y2":{"datum":0.83552}}},
{"data":{"values":[{}]},"mark":{"type":"text","text":"0.83564","align":"left","baseline":"middle","fontSize":8,"font":"DejaVu Sans","color":"white"},
 "encoding":{"x":{"datum":466.9,"type":"quantitative","axis":null},"y":{"datum":0.83564,"type":"quantitative","axis":null}}}
]
}
